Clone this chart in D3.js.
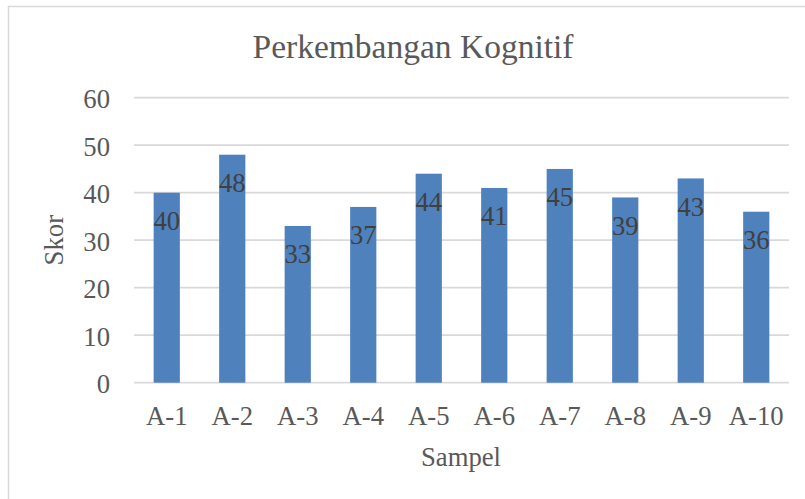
<!DOCTYPE html>
<html>
<head>
<meta charset="utf-8">
<script src="https://cdn.jsdelivr.net/npm/d3@7"></script>
<style>
  body { margin: 0; background: #fff; }
  text { font-family: "Liberation Serif", "Times New Roman", serif; }
</style>
</head>
<body>
<svg id="chart"></svg>
<script>
var samples = ['A-1', 'A-2', 'A-3', 'A-4', 'A-5', 'A-6', 'A-7', 'A-8', 'A-9', 'A-10'];
var scores = [40, 48, 33, 37, 44, 41, 45, 39, 43, 36];
var yTicks = [0, 10, 20, 30, 40, 50, 60];

var width = 805, height = 499;
var plotLeft = 134, plotRight = 789, plotTop = 97.7, plotBottom = 382.7;

var svg = d3.select('#chart')
            .attr('width', width)
            .attr('height', height);

// chart border
svg.append('rect')
    .attr('x', 8.5)
    .attr('y', 6.5)
    .attr('width', width)
    .attr('height', height)
    .attr('fill', 'none')
    .attr('stroke', '#d9d9d9')
    .attr('stroke-width', 1.5);

var x = d3.scaleBand()
          .domain(samples)
          .range([plotLeft, plotRight])
          .paddingInner(0.6)
          .paddingOuter(0.3);

var y = d3.scaleLinear()
          .domain([0, 60])
          .range([plotBottom, plotTop]);

// gridlines
svg.append('g')
    .selectAll('line')
    .data(yTicks)
    .enter()
    .append('line')
      .attr('x1', plotLeft)
      .attr('x2', plotRight)
      .attr('y1', d => y(d))
      .attr('y2', d => y(d))
      .attr('stroke', '#d9d9d9')
      .attr('stroke-width', 1.8);

// y tick labels
svg.append('g')
    .selectAll('text')
    .data(yTicks)
    .enter()
    .append('text')
      .attr('x', 110)
      .attr('y', d => y(d))
      .attr('dy', '0.4em')
      .attr('text-anchor', 'end')
      .attr('font-size', 26.7)
      .attr('fill', '#595959')
      .text(d => d);

// bars
var data = samples.map((s, i) => ({ sample: s, score: scores[i] }));

svg.append('g')
    .selectAll('rect')
    .data(data)
    .enter()
    .append('rect')
      .attr('x', d => x(d.sample))
      .attr('y', d => y(d.score))
      .attr('width', x.bandwidth())
      .attr('height', d => y(0) - y(d.score))
      .attr('fill', '#4f81bd');

// data labels
svg.append('g')
    .selectAll('text')
    .data(data)
    .enter()
    .append('text')
      .attr('x', d => x(d.sample) + x.bandwidth() / 2)
      .attr('y', d => y(d.score) + 37.5)
      .attr('text-anchor', 'middle')
      .attr('font-size', 26.7)
      .attr('fill', '#404040')
      .text(d => d.score);

// x tick labels
svg.append('g')
    .selectAll('text')
    .data(samples)
    .enter()
    .append('text')
      .attr('x', d => x(d) + x.bandwidth() / 2)
      .attr('y', plotBottom + 42.3)
      .attr('text-anchor', 'middle')
      .attr('font-size', 26.7)
      .attr('fill', '#595959')
      .text(d => d);

// titles
svg.append('text')
    .attr('x', 413)
    .attr('y', 58)
    .attr('text-anchor', 'middle')
    .attr('font-size', 33.5)
    .attr('fill', '#595959')
    .text('Perkembangan Kognitif');

svg.append('text')
    .attr('x', 461)
    .attr('y', 466)
    .attr('text-anchor', 'middle')
    .attr('font-size', 26.7)
    .attr('fill', '#595959')
    .text('Sampel');

svg.append('text')
    .attr('transform', 'translate(62.5,' + (plotTop + plotBottom) / 2 + ') rotate(-90)')
    .attr('text-anchor', 'middle')
    .attr('font-size', 26.7)
    .attr('fill', '#595959')
    .text('Skor');
</script>
</body>
</html>
